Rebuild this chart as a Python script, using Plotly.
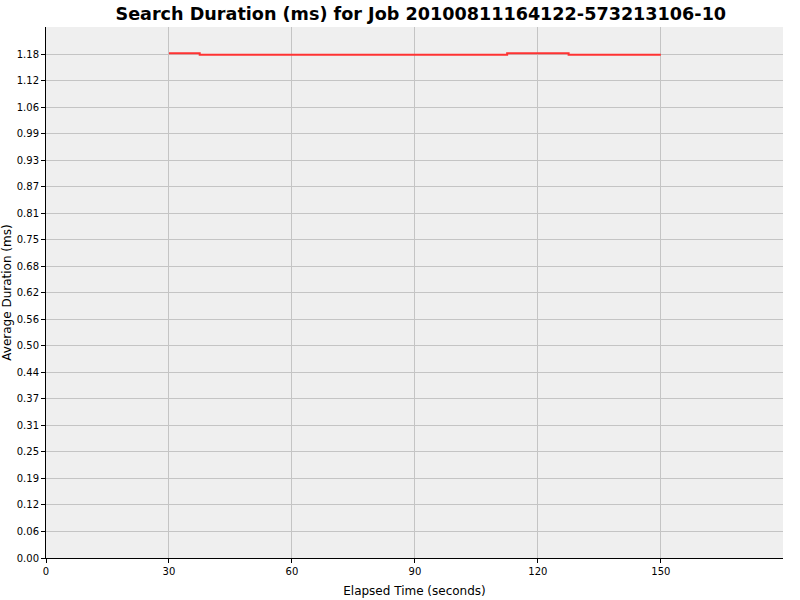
import plotly.graph_objects as go

# --- Data ---
elapsed_s = [30, 37.5, 45, 52.5, 60, 67.5, 75, 82.5, 90, 97.5,
             105, 112.5, 120, 127.5, 135, 142.5, 150]
avg_duration_ms = [1.1826, 1.1796, 1.1796, 1.1796, 1.1796, 1.1796, 1.1796, 1.1796, 1.1796, 1.1796,
                   1.1796, 1.1828, 1.1828, 1.1796, 1.1796, 1.1796, 1.1796]

y_tick_step = 0.06216
y_tick_vals = [i * y_tick_step for i in range(20)]
y_tick_text = [f"{v:.2f}" for v in y_tick_vals]
x_tick_vals = [0, 30, 60, 90, 120, 150]

fig = go.Figure()
fig.add_trace(go.Scatter(
    x=elapsed_s,
    y=avg_duration_ms,
    mode="lines",
    line=dict(color="#ff3333", width=2, shape="hv"),
    showlegend=False,
))

fig.update_layout(
    width=800, height=600,
    margin=dict(l=46, r=17, t=27, b=42),
    paper_bgcolor="white",
    plot_bgcolor="#efefef",
    font=dict(family="DejaVu Sans", color="#333333"),
    title=dict(
        text="<b>Search Duration (ms) for Job 20100811164122-573213106-10</b>",
        x=0.526, xanchor="center", y=0.977, yanchor="middle",
        font=dict(size=17.6, color="black", family="DejaVu Sans"),
    ),
    xaxis=dict(
        range=[0, 179.8],
        automargin=False,
        tickvals=x_tick_vals,
        ticks="outside", ticklen=4, tickcolor="black",
        tickfont=dict(size=10, color="black"),
        showline=True, linecolor="black", linewidth=1,
        showgrid=True, gridcolor="#c4c4c4", gridwidth=1,
        zeroline=False,
        title=dict(text="Elapsed Time (seconds)", font=dict(size=12, color="black"), standoff=10),
    ),
    yaxis=dict(
        range=[0, 1.2444],
        automargin=False,
        tickvals=y_tick_vals,
        ticktext=y_tick_text,
        ticks="outside", ticklen=4, tickcolor="black",
        tickfont=dict(size=10, color="black"),
        showline=True, linecolor="black", linewidth=1,
        showgrid=True, gridcolor="#c4c4c4", gridwidth=1,
        zeroline=False,
        title=dict(text="Average Duration (ms)", font=dict(size=12, color="black"), standoff=2),
    ),
)

# drop the browser's default body margin so the 800x600 figure sits at the corner
fig.write_html(
    "out.html",
    config={"displayModeBar": False},
    post_script="document.body.style.margin = '0';",
)
